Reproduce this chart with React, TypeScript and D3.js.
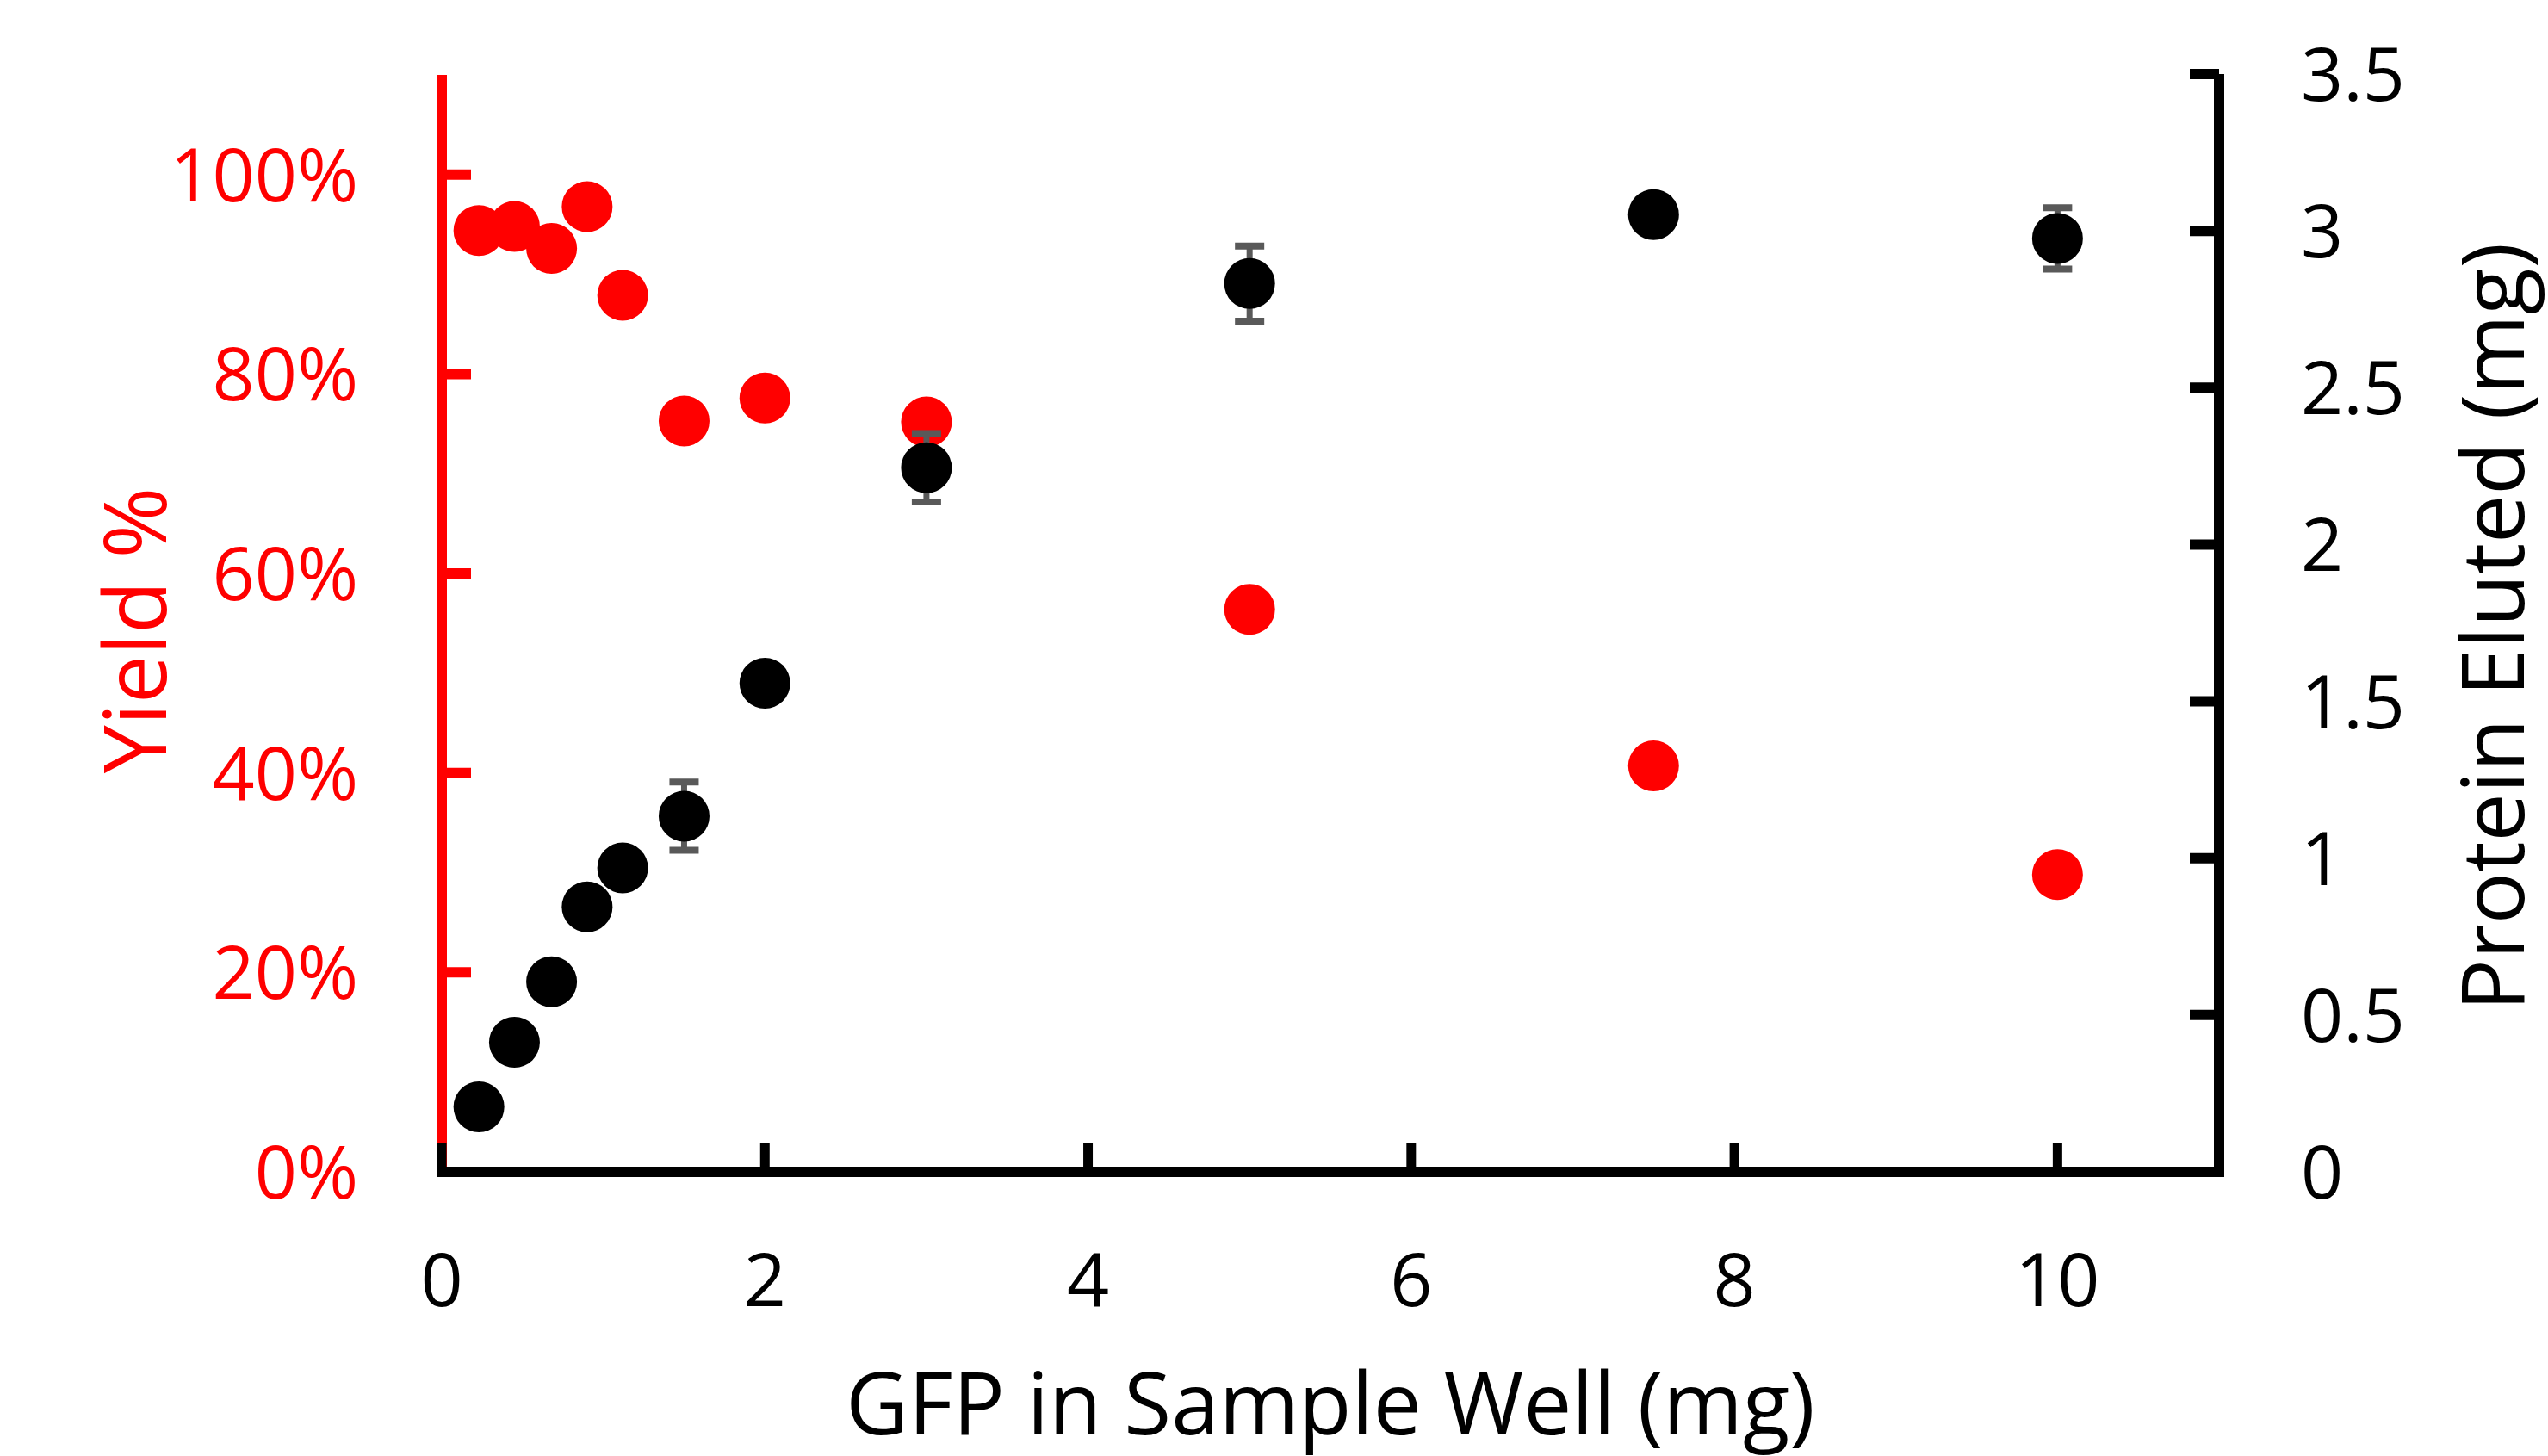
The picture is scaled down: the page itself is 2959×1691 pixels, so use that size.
import React from 'react';
import * as d3 from 'd3';

// GFP loaded into the sample well (mg)
const gfpLoaded = [0.23, 0.45, 0.68, 0.9, 1.12, 1.5, 2, 3, 5, 7.5, 10];
// yield, as a fraction (left axis)
const yieldFrac = [0.944, 0.948, 0.926, 0.968, 0.879, 0.753, 0.776, 0.752, 0.564, 0.407, 0.298];
// protein eluted in mg (right axis) and its error
const proteinEluted = [0.207, 0.413, 0.606, 0.845, 0.969, 1.134, 1.558, 2.245, 2.832, 3.052, 2.976];
const proteinErr = [0.03, 0.03, 0.03, 0.03, 0.03, 0.109, 0.03, 0.109, 0.12, 0.03, 0.098];

const xTicks = [0, 2, 4, 6, 8, 10];
const yieldTicks = [0, 0.2, 0.4, 0.6, 0.8, 1.0];
const proteinTicks = [0, 0.5, 1, 1.5, 2, 2.5, 3, 3.5];

const W = 2959;
const H = 1691;
const RED = '#FF0000';
const FONT = '"Open Sans", "Noto Sans", sans-serif';

const App = () => {
  // plot frame
  const left = 513, right = 2577, bottom = 1361;

  const x = d3.scaleLinear().domain([0, 11]).range([left, right]);
  const yLeft = d3.scaleLinear().domain([0, 1.1]).range([bottom, 87]);
  const yRight = d3.scaleLinear().domain([0, 3.5]).range([bottom, 86]);

  const tickLen = 34;
  const lineW = 12;
  const r = 29.5;
  const capHalf = 17;

  const pts = gfpLoaded.map((g, i) => ({
    g, yld: yieldFrac[i], prot: proteinEluted[i], err: proteinErr[i],
  }));

  return (
    <>
      <style>{`body{margin:0;background:#fff}`}</style>
      <svg width={W} height={H} style={{ display: 'block', background: '#fff' }} fontFamily={FONT}>
        {/* left axis (yield) */}
        <line x1={left} x2={left} y1={yLeft(1.1)} y2={bottom} stroke={RED} strokeWidth={lineW} />
        {yieldTicks.map(t => (
          <g key={'yl' + t}>
            <line x1={left} x2={left + tickLen} y1={yLeft(t)} y2={yLeft(t)} stroke={RED} strokeWidth={lineW} />
            <text x={416} y={yLeft(t)} dy="0.36em" textAnchor="end" fill={RED} fontSize={86}>
              {d3.format('.0%')(t)}
            </text>
          </g>
        ))}

        {/* right axis (protein) */}
        <line x1={right} x2={right} y1={yRight(3.5)} y2={bottom} stroke="#000" strokeWidth={lineW} />
        {proteinTicks.map(t => (
          <g key={'yr' + t}>
            <line x1={right} x2={right - tickLen} y1={yRight(t)} y2={yRight(t)} stroke="#000" strokeWidth={lineW} />
            <text x={2672} y={yRight(t)} dy="0.36em" textAnchor="start" fill="#000" fontSize={86}>
              {String(t)}
            </text>
          </g>
        ))}

        {/* x axis */}
        <line x1={left - lineW / 2} x2={right + lineW / 2} y1={bottom} y2={bottom} stroke="#000" strokeWidth={lineW} />
        {xTicks.map(t => (
          <g key={'x' + t}>
            <line x1={x(t)} x2={x(t)} y1={bottom} y2={bottom - tickLen} stroke="#000" strokeWidth={11} />
            <text x={x(t)} y={1517} textAnchor="middle" fill="#000" fontSize={86}>{t}</text>
          </g>
        ))}

        {/* titles */}
        <text x={(left + right) / 2} y={1666} textAnchor="middle" fontSize={100} fill="#000">
          GFP in Sample Well (mg)
        </text>
        <text transform={`translate(193, 732) rotate(-90)`} textAnchor="middle" fontSize={100} fill={RED}>
          Yield %
        </text>
        <text transform={`translate(2931, 728) rotate(-90)`} textAnchor="middle" fontSize={100} fill="#000">
          Protein Eluted (mg)
        </text>

        {/* yield points */}
        {pts.map((d, i) => (
          <circle key={'r' + i} cx={x(d.g)} cy={yLeft(d.yld)} r={r} fill={RED} />
        ))}

        {/* protein points with error bars */}
        {pts.map((d, i) => {
          const cx = x(d.g);
          const y1 = yRight(d.prot + d.err);
          const y2 = yRight(d.prot - d.err);
          return (
            <g key={'b' + i}>
              <line x1={cx} x2={cx} y1={y1} y2={y2} stroke="#595959" strokeWidth={7} />
              <line x1={cx - capHalf} x2={cx + capHalf} y1={y1} y2={y1} stroke="#595959" strokeWidth={8} />
              <line x1={cx - capHalf} x2={cx + capHalf} y1={y2} y2={y2} stroke="#595959" strokeWidth={8} />
              <circle cx={cx} cy={yRight(d.prot)} r={r} fill="#000" />
            </g>
          );
        })}
      </svg>
    </>
  );
};

export default App;
